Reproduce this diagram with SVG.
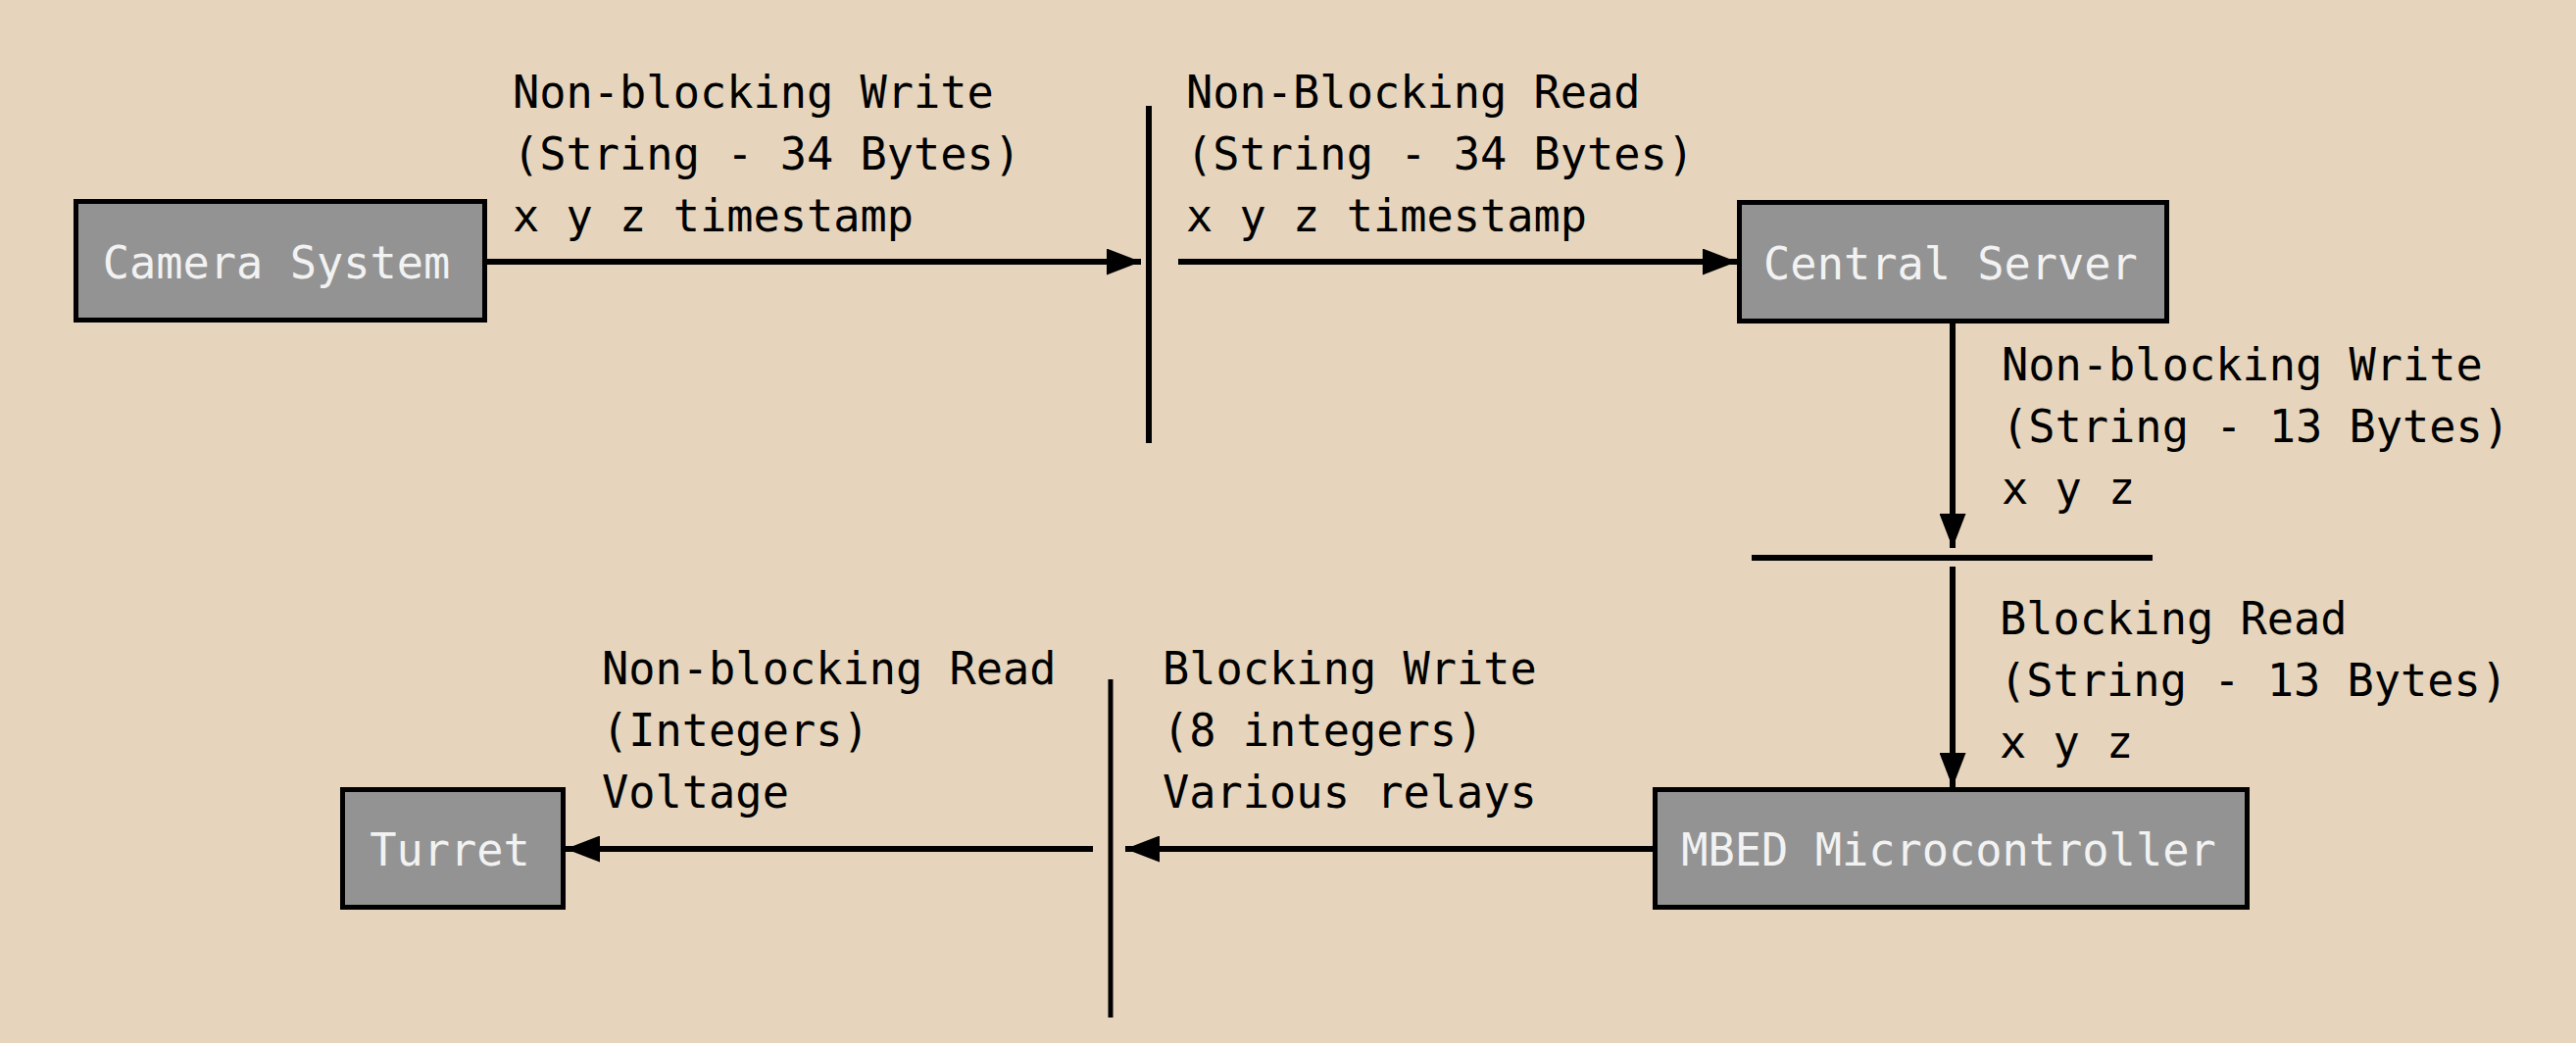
<svg xmlns="http://www.w3.org/2000/svg" width="2628" height="1064" viewBox="0 0 2628 1064">
<defs>
<style>
.bg{fill:#E6D5BC}
.box{fill:#939393;stroke:#000;stroke-width:5}
.bt{font-family:"DejaVu Sans Mono","Liberation Mono",monospace;font-size:45.3px;fill:#F2F2F2;text-anchor:middle}
.lb{font-family:"DejaVu Sans Mono","Liberation Mono",monospace;font-size:45.3px;fill:#000}
.ln{stroke:#000;stroke-width:6;fill:none}
.bar{stroke:#000;stroke-width:6;fill:none}
</style>
<marker id="ah" markerUnits="userSpaceOnUse" markerWidth="35" markerHeight="27" refX="35" refY="13.5" orient="auto">
<path d="M0,0 L35,13.5 L0,27 Z" fill="#000"/>
</marker>
</defs>
<rect class="bg" x="0" y="0" width="2628" height="1064"/>
<g id="connectors">
<line class="ln" x1="497" y1="267" x2="1164" y2="267" marker-end="url(#ah)"/>
<line class="bar" x1="1172" y1="108" x2="1172" y2="452"/>
<line class="ln" x1="1202" y1="267" x2="1772" y2="267" marker-end="url(#ah)"/>
<line class="ln" x1="1992" y1="330" x2="1992" y2="559" marker-end="url(#ah)"/>
<line class="bar" x1="1787" y1="569" x2="2196" y2="569"/>
<line class="ln" x1="1992" y1="578" x2="1992" y2="803" marker-end="url(#ah)"/>
<line class="ln" x1="1686" y1="866" x2="1148" y2="866" marker-end="url(#ah)"/>
<line class="bar" x1="1133" y1="693" x2="1133" y2="1038" style="stroke-width:5"/>
<line class="ln" x1="1115" y1="866" x2="577" y2="866" marker-end="url(#ah)"/>
</g>
<g id="labels">
<text class="lb" x="523" y="110">Non-blocking Write</text>
<text class="lb" x="523" y="173">(String - 34 Bytes)</text>
<text class="lb" x="523" y="236">x y z timestamp</text>
<text class="lb" x="1210" y="110">Non-Blocking Read</text>
<text class="lb" x="1210" y="173">(String - 34 Bytes)</text>
<text class="lb" x="1210" y="236">x y z timestamp</text>
<text class="lb" x="2042" y="388">Non-blocking Write</text>
<text class="lb" x="2042" y="451">(String - 13 Bytes)</text>
<text class="lb" x="2042" y="514">x y z</text>
<text class="lb" x="2040" y="647">Blocking Read</text>
<text class="lb" x="2040" y="710">(String - 13 Bytes)</text>
<text class="lb" x="2040" y="773">x y z</text>
<text class="lb" x="614" y="698">Non-blocking Read</text>
<text class="lb" x="614" y="761">(Integers)</text>
<text class="lb" x="614" y="824">Voltage</text>
<text class="lb" x="1186" y="698">Blocking Write</text>
<text class="lb" x="1186" y="761">(8 integers)</text>
<text class="lb" x="1186" y="824">Various relays</text>
</g>
<g id="camera">
<rect class="box" x="77.5" y="205.5" width="417" height="121"/>
<text class="bt" x="282" y="284">Camera System</text>
</g>
<g id="server">
<rect class="box" x="1774.5" y="206.5" width="436" height="121"/>
<text class="bt" x="1990" y="285">Central Server</text>
</g>
<g id="mbed">
<rect class="box" x="1688.5" y="805.5" width="604" height="120"/>
<text class="bt" x="1988" y="883">MBED Microcontroller</text>
</g>
<g id="turret">
<rect class="box" x="349.5" y="805.5" width="225" height="120"/>
<text class="bt" x="459" y="883">Turret</text>
</g>
</svg>
